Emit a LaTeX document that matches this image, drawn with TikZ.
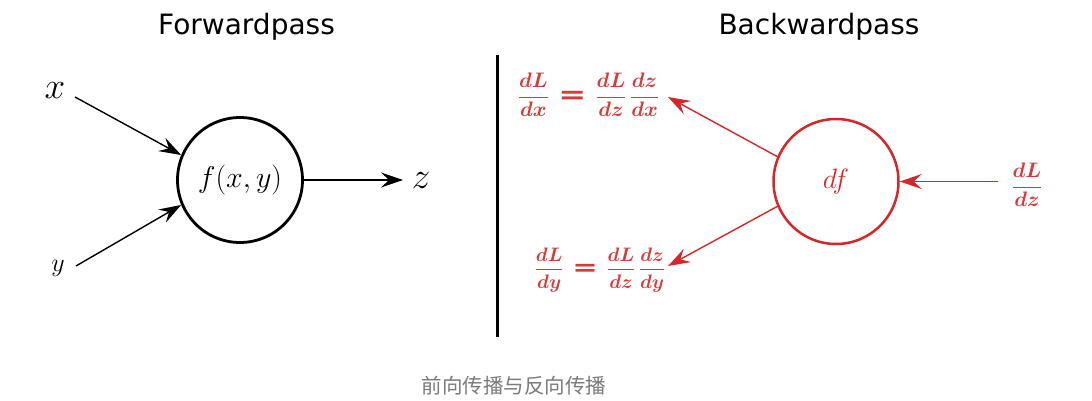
\documentclass[tikz,border=0pt]{standalone}
\usepackage{fix-cm}
\usepackage{amsmath}
\usepackage{fontspec}
\setmainfont{DejaVu Sans}
\newfontfamily\cjk{Noto Sans CJK SC}
\usetikzlibrary{arrows.meta}
\definecolor{bred}{HTML}{D62728}
\definecolor{lred}{HTML}{D83A3A}
\definecolor{capgray}{HTML}{7A7A7A}
\newcommand{\bfr}[2]{\displaystyle\frac{\boldsymbol{#1}}{\boldsymbol{#2}}}
\newcommand{\beq}[1]{\mskip 3mu\mathrel{\vcenter{\hbox{\fontsize{#1}{#1}\selectfont\bfseries\scalebox{1.45}[1.1]{=}}}}\mskip 3mu}
\begin{document}
\begin{tikzpicture}[x=1pt,y=-1pt,
 title/.style={font=\fontsize{28}{32}\selectfont, anchor=base, inner sep=0},
 fnode/.style={circle, draw=black, line width=2.8pt, minimum size=125pt, inner sep=0},
 bnode/.style={circle, draw=bred, line width=2.5pt, minimum size=125pt, inner sep=0, text=bred},
 farrow/.style={line width=1.4pt, -{Stealth[length=22pt,width=15pt,inset=8pt]}},
 barrow/.style={draw=bred, color=bred, line width=1.4pt, -{Stealth[length=22pt,width=15pt,inset=8pt]}},
 lbl/.style={inner sep=0},
 rlbl/.style={inner sep=0, text=lred},
 divider/.style={line width=3pt},
]
\useasboundingbox (0,0) rectangle (1092,401);

% titles
\node[title] (ft) at (246.5,35) {Forwardpass};
\node[title] (bt) at (819,35) {Backwardpass};

% forward pass
\node[fnode, font=\fontsize{30}{34}\selectfont] (fc) at (240,180) {$f(x,y)$};
\node[lbl, font=\fontsize{37}{42}\selectfont] (xl) at (55,91) {$x$};
\node[lbl, font=\fontsize{26}{30}\selectfont] (yl) at (58,268) {$y$};
\node[lbl, font=\fontsize{37}{42}\selectfont] (zl) at (421,181) {$z$};
\coordinate (xs) at (75,97);
\coordinate (ys) at (76,266);
\coordinate (ze) at (403,180);
\draw[farrow] (xs) -- (fc.157);
\draw[farrow] (ys) -- (fc.203);
\draw[farrow] (fc.east) -- (ze);

% divider
\coordinate (d1) at (497,55);
\coordinate (d2) at (497,337);
\draw[divider] (d1) -- (d2);

% backward pass
\node[bnode, font=\fontsize{28}{32}\selectfont] (bc) at (836,181.5) {$df$};
\coordinate (rs) at (998,181.5);
\coordinate (ut) at (668,97);
\coordinate (lt) at (668,266);
\draw[barrow] (rs) -- (bc.east);
\draw[barrow] (bc.157) -- (ut);
\draw[barrow] (bc.203) -- (lt);
\node[rlbl, font=\fontsize{21}{25}\selectfont] (gx) at (588.5,95) {$\bfr{dL}{dx} \beq{23} \bfr{dL}{dz}\,\bfr{dz}{dx}$};
\node[rlbl, font=\fontsize{19.5}{23}\selectfont] (gy) at (600,270) {$\bfr{dL}{dy} \beq{21} \bfr{dL}{dz}\,\bfr{dz}{dy}$};
\node[rlbl, font=\fontsize{21}{25}\selectfont] (gz) at (1027,185) {$\bfr{dL}{dz}$};

% caption
\node[font=\cjk\fontsize{20.5}{24}\selectfont, text=capgray] (cap) at (514,386) {前向传播与反向传播};
\end{tikzpicture}
\end{document}
